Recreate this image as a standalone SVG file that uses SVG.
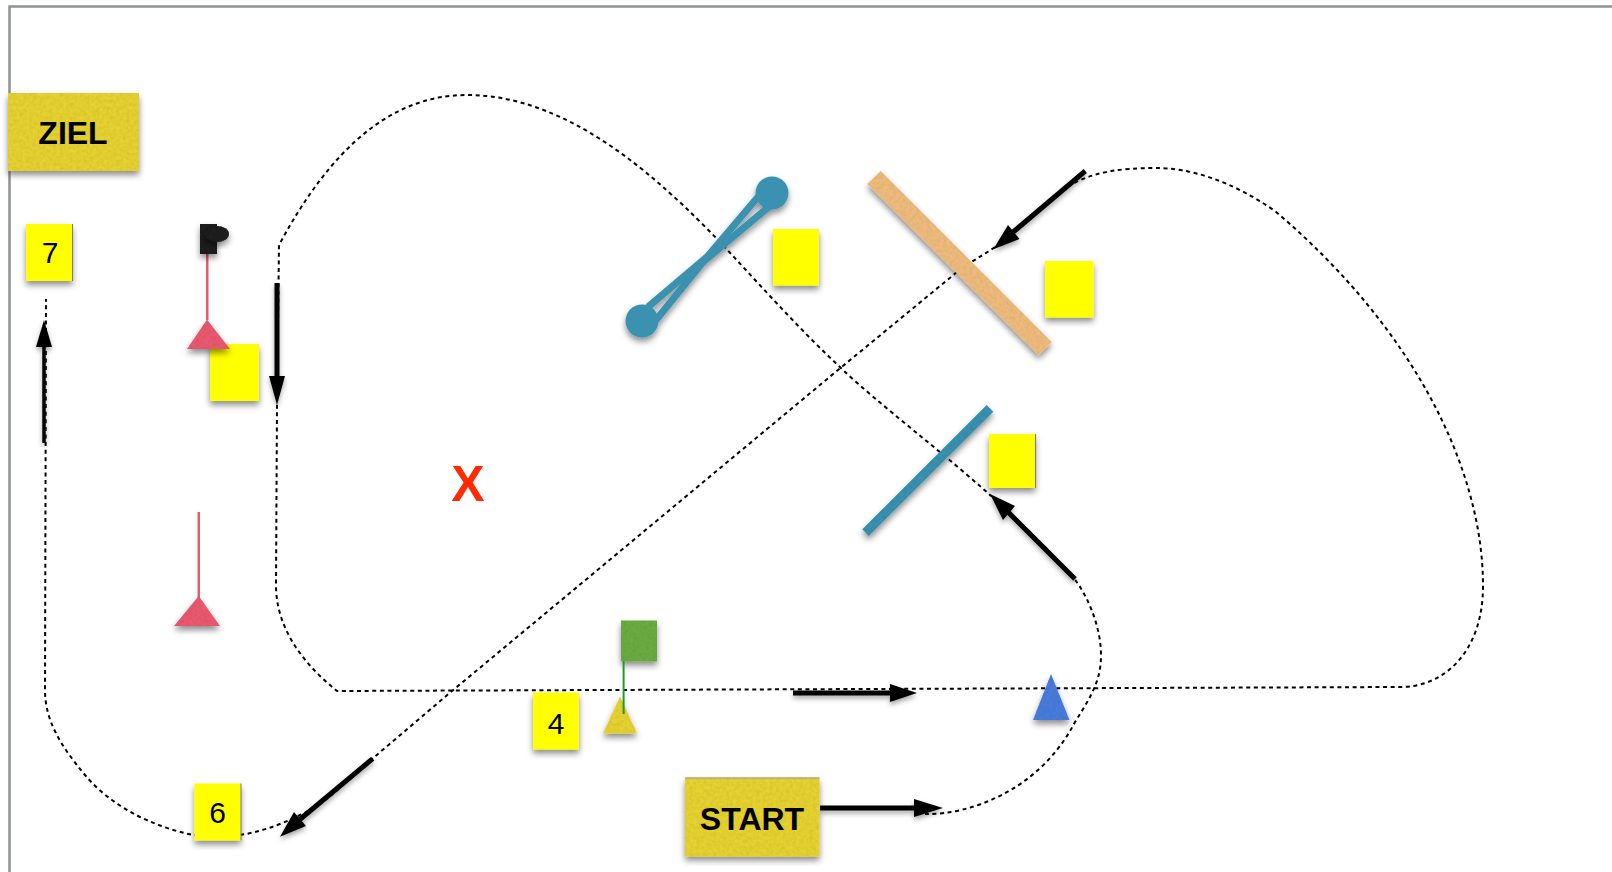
<svg xmlns="http://www.w3.org/2000/svg" width="1612" height="872" viewBox="0 0 1612 872">
<style>
.route{fill:none;stroke:#000;stroke-width:2;stroke-dasharray:4 3.6}
.arrow{fill:none;stroke:#000;stroke-width:5}
.head{fill:#000}
.note{fill:#ffff00;filter:url(#shadow)}
.edge{fill:#7d7d7d}
.label{font-family:"Liberation Sans",Arial,sans-serif;fill:#000}
.big{font-weight:700;font-size:32px;text-anchor:middle}
.num{font-size:30px;text-anchor:middle}
.gold{fill:#e6d230;filter:url(#paper)}
.red{fill:#e95a70;filter:url(#paper)}
.teal{fill:#3a91b0;filter:url(#paper)}
.strap{fill:none;stroke:#3a91b0;stroke-width:7}
</style>
<defs>
<filter id="shadow" x="-30%" y="-30%" width="160%" height="170%"><feDropShadow dx="0" dy="4" stdDeviation="3" flood-color="#000" flood-opacity="0.45"/></filter>
<filter id="paper" x="-30%" y="-30%" width="160%" height="170%">
<feTurbulence type="fractalNoise" baseFrequency="0.3" numOctaves="2" seed="4" result="n"/>
<feColorMatrix in="n" type="matrix" values="0 0 0 0 0  0 0 0 0 0  0 0 0 0 0  0 0 0 0.25 -0.08" result="d"/>
<feComposite in="d" in2="SourceAlpha" operator="in" result="t"/>
<feMerge result="m"><feMergeNode in="SourceGraphic"/><feMergeNode in="t"/></feMerge>
<feDropShadow in="m" dx="0" dy="4" stdDeviation="3" flood-color="#000" flood-opacity="0.45"/>
</filter>
<filter id="ashadow" x="-30%" y="-30%" width="160%" height="170%"><feDropShadow dx="0" dy="3" stdDeviation="2.5" flood-color="#000" flood-opacity="0.35"/></filter>
</defs>
<rect width="1612" height="872" fill="#fff"/>
<path id="frame" d="M9.500 872V6.500H1612" fill="none" stroke="#8e9296" stroke-width="2.500"/>

<g id="connectors">
<path class="route" d="M925 814C970 815 1040 790 1075 722C1092 695 1101 680 1101 655C1101 630 1090 600 1076 581C1050 550 1020 522 990 495C940 450 880 405 843 370C800 330 760 285 720 242C660 180 570 95 467 95C390 95 330 150 279 245L277 405L276 585C276 630 305 665 337 691L1400 687C1446 687 1483 650 1483 586C1483 470 1415 330 1275 211C1230 180 1190 168 1155 168C1120 168 1095 172 1072 184C1045 200 1020 228 995 247C982 256 970 262 957 272L838 370L452 691L372 759C350 778 325 805 300 815C280 825 260 832 240 835H193C150 826 110 805 85 775C60 745 45 720 45 690L46 299"/>
<g filter="url(#ashadow)">
<path class="arrow" d="M820 808H916"/><path class="head" d="M943 808L914 799V817Z"/>
<path class="arrow" d="M793 693H892"/><path class="head" d="M917 693L890 684V702Z"/>
<path class="arrow" d="M1075 579L1005 509"/><path class="head" d="M990 494L1015 506L1003 520Z"/>
<path class="arrow" d="M1085.300 171L1012 233"/><path class="head" d="M993.300 249.300L1008 225L1019.500 239Z"/>
<path class="arrow" d="M372.700 758.700L298 821"/><path class="head" d="M280 836.700L294 812L306 826Z"/>
<path class="arrow" d="M44 443V345" style="stroke-width:3.500"/><path class="head" d="M44 320L36 347H52Z"/>
<path class="arrow" d="M277 283V378"/><path class="head" d="M277 405L269 376H285Z"/>
</g>
</g>

<g id="ziel"><rect class="gold" x="8" y="93" width="131" height="78"/><text class="label big" x="73" y="144">ZIEL</text></g>
<g id="start"><rect class="gold" x="685" y="777.500" width="134.500" height="79"/><rect x="685" y="777.500" width="134.500" height="1" fill="#999"/><text class="label big" x="752" y="830">START</text></g>
<g id="note7"><rect class="note" x="26" y="224" width="46.500" height="57"/><rect class="edge" x="72" y="224" width="1" height="57"/><text class="label num" x="50" y="263">7</text></g>
<g id="note6"><rect class="note" x="194.500" y="783.500" width="46.500" height="57"/><rect class="edge" x="240.500" y="783.500" width="1" height="57"/><text class="label num" x="217.500" y="823">6</text></g>
<g id="note4"><rect class="note" x="533" y="692.500" width="46" height="57"/><text class="label num" x="556" y="734">4</text></g>
<g id="note-a"><rect class="note" x="210" y="344" width="49" height="57"/></g>
<g id="note-b"><rect class="note" x="773" y="229" width="46" height="56.500"/></g>
<g id="note-c"><rect class="note" x="1045" y="261" width="48.500" height="56.500"/></g>
<g id="note-d"><rect class="note" x="989" y="434" width="46.500" height="54"/><rect class="edge" x="1035" y="434" width="1" height="54"/></g>

<g id="gate-red-1">
<rect x="206" y="254" width="2.500" height="66" fill="#e95a70"/>
<path class="red" d="M207 319.500L230 349H187Z"/>
<rect x="200" y="224" width="17" height="30" fill="#222" filter="url(#paper)"/>
<ellipse cx="217" cy="234" rx="12" ry="8" fill="#222" filter="url(#paper)"/>
</g>
<g id="gate-red-2">
<rect x="197.500" y="512" width="2.500" height="86" fill="#e95a70"/>
<path class="red" d="M198.700 596L220 626H174Z"/>
</g>
<g id="flag-green">
<rect x="621" y="620.500" width="36" height="41" fill="#6cab42" filter="url(#paper)"/>
<path class="gold" d="M620 696.500L637 733.500H603Z"/>
<rect x="622.600" y="661" width="2" height="53" fill="#1e9b2d"/>
</g>
<g id="cone-blue"><path d="M1051 674L1069.500 720H1033Z" fill="#4a7bdc" filter="url(#paper)"/></g>
<g id="bar-tan"><path d="M880.700 171L867.300 184L1038.700 355.300L1051.700 342Z" fill="#efbb7c" filter="url(#paper)"/></g>
<g id="bar-teal"><path class="teal" d="M986.700 405L993.300 411.700L868.700 536L862.300 529.300Z"/></g>
<g id="dumbbell" filter="url(#shadow)">
<circle cx="772" cy="193" r="16.500" fill="#3a91b0"/>
<circle cx="642" cy="321" r="16.500" fill="#3a91b0"/>
<path class="strap" d="M763 191L707 257L648 307"/>
<path class="strap" d="M771 205L703 262L656 320"/>
</g>
<g id="mark-x"><text class="label" x="468" y="501" text-anchor="middle" font-weight="700" font-size="50" style="fill:#ff2a00">X</text></g>
</svg>
